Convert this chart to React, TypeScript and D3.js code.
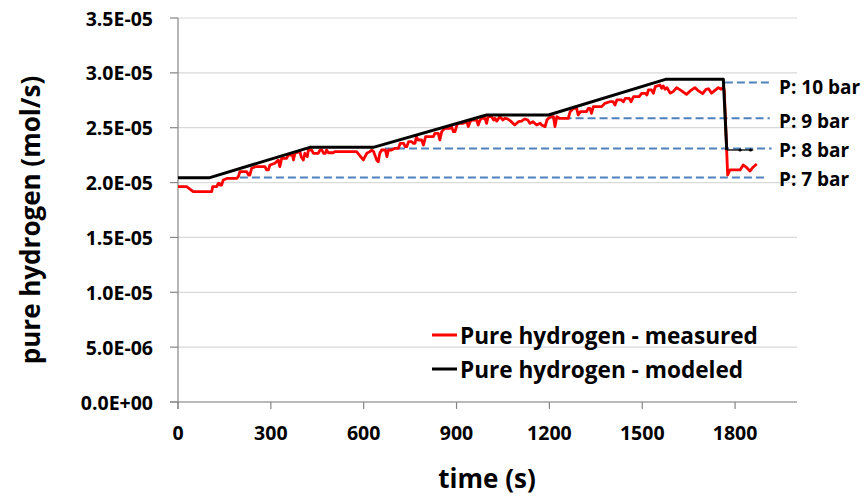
import React from "react";
import * as d3 from "d3";

// ---------- data (values in units of 1e-5 mol/s) ----------
const UNIT = 1e-5;

const timeTicks = [0, 300, 600, 900, 1200, 1500, 1800];
const valueTicks = [0, 0.5, 1.0, 1.5, 2.0, 2.5, 3.0, 3.5];

const seriesNames = ["Pure hydrogen - measured", "Pure hydrogen - modeled"];

// measured: [time s, value]
const measured: [number, number][] = [
  [0, 1.963], [28, 1.963], [49, 1.917], [109, 1.917], [112, 1.963], [125, 1.963], [130, 1.993], [134, 1.993],
  [136, 1.978], [141, 1.978], [146, 2.023], [160, 2.039], [190, 2.039], [195, 2.054], [200, 2.099], [222, 2.099],
  [228, 2.069], [232, 2.069], [238, 2.13], [250, 2.145], [281, 2.145], [286, 2.115], [292, 2.115], [297, 2.16],
  [313, 2.176], [324, 2.206], [329, 2.145], [335, 2.221], [351, 2.221], [356, 2.251], [370, 2.251], [373, 2.206],
  [378, 2.267], [394, 2.282], [398, 2.236], [405, 2.206], [410, 2.267], [418, 2.236], [421, 2.297], [432, 2.297],
  [437, 2.267], [453, 2.267], [459, 2.297], [465, 2.297], [470, 2.267], [476, 2.267], [480, 2.297], [486, 2.272],
  [502, 2.272], [507, 2.282], [577, 2.282], [590, 2.236], [599, 2.206], [610, 2.267], [620, 2.282], [626, 2.297],
  [632, 2.282], [642, 2.206], [647, 2.19], [652, 2.267], [658, 2.297], [670, 2.297], [675, 2.236], [680, 2.297],
  [690, 2.297], [701, 2.312], [712, 2.312], [718, 2.358], [729, 2.358], [734, 2.327], [739, 2.327], [745, 2.373],
  [755, 2.373], [760, 2.358], [766, 2.358], [770, 2.418], [776, 2.388], [787, 2.388], [793, 2.342], [800, 2.418],
  [825, 2.418], [830, 2.449], [841, 2.449], [846, 2.388], [852, 2.464], [862, 2.494], [878, 2.494], [884, 2.51],
  [890, 2.464], [895, 2.464], [903, 2.54], [922, 2.54], [933, 2.555], [938, 2.51], [944, 2.555], [949, 2.57],
  [965, 2.57], [970, 2.525], [976, 2.57], [981, 2.586], [992, 2.586], [997, 2.54], [1002, 2.601], [1013, 2.601],
  [1020, 2.57], [1024, 2.586], [1030, 2.56], [1040, 2.601], [1050, 2.57], [1056, 2.586], [1065, 2.58], [1075, 2.56],
  [1088, 2.525], [1100, 2.555], [1110, 2.56], [1121, 2.58], [1130, 2.57], [1137, 2.54], [1147, 2.555], [1159, 2.525],
  [1170, 2.54], [1175, 2.525], [1186, 2.51], [1192, 2.57], [1197, 2.586], [1207, 2.601], [1213, 2.601], [1218, 2.51],
  [1224, 2.601], [1232, 2.586], [1261, 2.586], [1267, 2.646], [1278, 2.677], [1288, 2.677], [1293, 2.616], [1300, 2.646],
  [1320, 2.646], [1326, 2.677], [1331, 2.677], [1336, 2.631], [1342, 2.692], [1369, 2.692], [1379, 2.722], [1395, 2.737],
  [1406, 2.737], [1412, 2.707], [1418, 2.753], [1433, 2.753], [1439, 2.737], [1445, 2.768], [1458, 2.768], [1464, 2.737],
  [1472, 2.783], [1490, 2.783], [1498, 2.813], [1510, 2.813], [1515, 2.798], [1520, 2.844], [1530, 2.844], [1536, 2.813],
  [1542, 2.874], [1557, 2.889], [1563, 2.859], [1568, 2.88], [1574, 2.85], [1580, 2.865], [1590, 2.815], [1600, 2.829],
  [1611, 2.865], [1625, 2.84], [1643, 2.804], [1655, 2.835], [1670, 2.865], [1682, 2.835], [1695, 2.81], [1706, 2.85],
  [1714, 2.855], [1724, 2.815], [1735, 2.84], [1746, 2.865], [1755, 2.85], [1762, 2.87], [1765, 2.84], [1776, 2.069],
  [1783, 2.115], [1816, 2.115], [1826, 2.16], [1836, 2.14], [1848, 2.105], [1858, 2.14], [1870, 2.169],
];

const modeled: [number, number][] = [
  [0, 2.045], [103, 2.045], [426, 2.321], [631, 2.321], [997, 2.616], [1197, 2.616],
  [1575, 2.941], [1762, 2.941], [1773, 2.297],
];
const modeledTail: [number, number][] = [[1773, 2.297], [1859, 2.297]];
const modeledTailMarkers: [number, number][] = [[1816, 2.297], [1850, 2.297]];

const pressureLabels = ["P: 10 bar", "P: 9 bar", "P: 8 bar", "P: 7 bar"];
const pressureLevels = [2.912, 2.586, 2.31, 2.047];
const pressureStart = [1767, 1207, 669, 200];
const pressureEnd = [1912, 1912, 1918, 1900];

// ---------- layout ----------
const W = 866;
const H = 499;
const left = 178;
const right = 797;
const top = 18;
const bottom = 402;
const FONT = "'Open Sans', 'Liberation Sans', sans-serif";

function fmtExp(v: number): string {
  const s = (v * UNIT).toExponential(1).toUpperCase(); // e.g. 3.5E-5
  const m = s.match(/^([\d.]+)E([+-])(\d+)$/);
  if (!m) return s;
  return `${m[1]}E${m[2]}${m[3].padStart(2, "0")}`;
}

export default function App() {
  const x = d3.scaleLinear().domain([0, 2000]).range([left, right]);
  const y = d3.scaleLinear().domain([0, 3.5]).range([bottom, top]);
  const line = d3
    .line<[number, number]>()
    .x((d) => x(d[0]))
    .y((d) => y(d[1]));

  const labelOffsets = [4, 3, 1, 2];

  return (
    <svg
      width={W}
      height={H}
      style={{ position: "absolute", left: 0, top: 0, background: "#fff" }}
      fontFamily={FONT}
      fontWeight={700}
    >
      <rect x={0} y={0} width={W} height={H} fill="#fff" />
      {/* gridlines */}
      {valueTicks.map((v) => (
        <line key={"g" + v} x1={left} x2={right} y1={y(v)} y2={y(v)} stroke="#d9d9d9" strokeWidth={1.2} />
      ))}
      {/* axes */}
      <line x1={left} x2={left} y1={top} y2={bottom + 7} stroke="#868686" strokeWidth={1.2} />
      <line x1={left - 8} x2={right} y1={bottom} y2={bottom} stroke="#868686" strokeWidth={1.2} />
      {valueTicks.map((v) => (
        <g key={"yt" + v}>
          <line x1={left - 8} x2={left} y1={y(v)} y2={y(v)} stroke="#868686" strokeWidth={1.2} />
          <text x={153} y={y(v)} textAnchor="end" dominantBaseline="central" fontSize={19.5} fill="#000">
            {fmtExp(v)}
          </text>
        </g>
      ))}
      {timeTicks.map((t) => (
        <g key={"xt" + t}>
          <line x1={x(t)} x2={x(t)} y1={bottom} y2={bottom + 7} stroke="#868686" strokeWidth={1.2} />
          <text x={x(t)} y={432} textAnchor="middle" dominantBaseline="central" fontSize={19.5} fill="#000">
            {t}
          </text>
        </g>
      ))}
      {/* axis titles */}
      <text x={487} y={478} textAnchor="middle" dominantBaseline="central" fontSize={26} fill="#000">
        time (s)
      </text>
      <text
        transform={`translate(30, ${(top + bottom) / 2 + 10}) rotate(-90)`}
        textAnchor="middle"
        dominantBaseline="central"
        fontSize={26}
        fill="#000"
      >
        pure hydrogen (mol/s)
      </text>

      {/* pressure reference lines */}
      {pressureLevels.map((v, i) => (
        <g key={"p" + i}>
          <line
            x1={x(pressureStart[i])}
            x2={x(pressureEnd[i])}
            y1={y(v)}
            y2={y(v)}
            stroke="#4f81bd"
            strokeWidth={2}
            strokeDasharray="8 4"
          />
          <text x={779} y={y(v) + labelOffsets[i]} dominantBaseline="central" fontSize={19} fill="#000">
            {pressureLabels[i]}
          </text>
        </g>
      ))}

      {/* series */}
      <path d={line(measured) || ""} fill="none" stroke="#ff0000" strokeWidth={2.8} strokeLinejoin="round" />
      <path d={line(modeled) || ""} fill="none" stroke="#000" strokeWidth={3} strokeLinejoin="round" />
      <path d={line(modeledTail) || ""} fill="none" stroke="#000" strokeWidth={1.3} />
      {modeledTailMarkers.map((d, i) => (
        <circle key={"m" + i} cx={x(d[0])} cy={y(d[1])} r={1.6} fill="#000" />
      ))}

      {/* legend */}
      <line x1={432} x2={457} y1={335} y2={335} stroke="#ff0000" strokeWidth={3} />
      <text x={460} y={335} dominantBaseline="central" fontSize={22.6} fill="#000">
        {seriesNames[0]}
      </text>
      <line x1={432} x2={457} y1={369} y2={369} stroke="#000" strokeWidth={3} />
      <text x={460} y={369} dominantBaseline="central" fontSize={22.6} fill="#000">
        {seriesNames[1]}
      </text>
    </svg>
  );
}
